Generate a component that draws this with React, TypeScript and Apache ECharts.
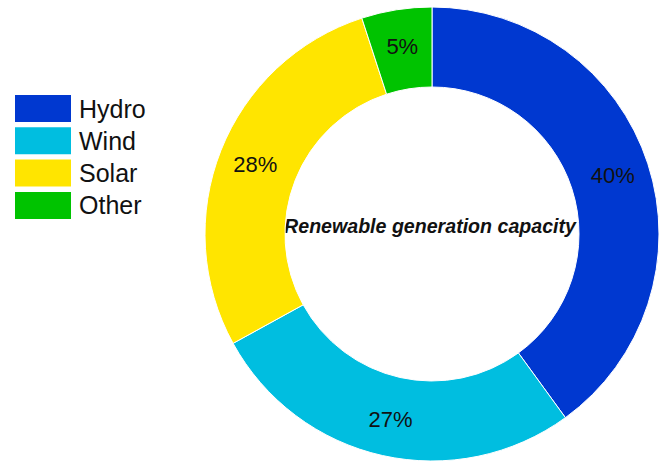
import React, { useEffect, useRef } from "react";
import * as echarts from "echarts";

const categories = ["Hydro", "Wind", "Solar", "Other"];
const values = [40, 27, 28, 5];
const colors = ["#0038D0", "#00BEE0", "#FFE500", "#00C300"];
const centerTitle = "Renewable generation capacity";

export default function App() {
  const ref = useRef<HTMLDivElement>(null);
  useEffect(() => {
    document.body.style.margin = "0";
    const chart = echarts.init(ref.current!, null, { renderer: "svg" });
    const font = "'Liberation Sans', Arial, Helvetica, sans-serif";
    chart.setOption({
      animation: false,
      backgroundColor: "#ffffff",
      color: colors,
      legend: {
        orient: "vertical",
        left: 15,
        top: 95,
        padding: 0,
        icon: "rect",
        itemWidth: 56,
        itemHeight: 27,
        itemGap: 5.3,
        itemStyle: { borderWidth: 0 },
        data: categories,
        textStyle: {
          fontFamily: font,
          fontSize: 25,
          lineHeight: 27,
          color: "#111111",
          padding: [0, 0, 0, 3],
        },
      },
      graphic: [
        {
          type: "text",
          x: 430,
          y: 226,
          style: {
            text: centerTitle,
            fontFamily: font,
            fontSize: 19.6,
            fontWeight: "bold",
            fontStyle: "italic",
            fill: "#111111",
            textAlign: "center",
            textVerticalAlign: "middle",
          },
        },
      ],
      series: [
        {
          type: "pie",
          center: [432, 234],
          radius: [147, 227],
          startAngle: 90,
          clockwise: true,
          avoidLabelOverlap: false,
          itemStyle: { borderColor: "#ffffff", borderWidth: 1 },
          label: {
            show: true,
            position: "inside",
            formatter: "{c}%",
            fontFamily: font,
            fontSize: 22,
            color: "#111111",
          },
          labelLine: { show: false },
          emphasis: { disabled: true },
          data: categories.map((name, i) => ({ name, value: values[i] })),
        },
      ],
    });
    return () => chart.dispose();
  }, []);
  return <div ref={ref} style={{ width: 661, height: 462 }} />;
}
